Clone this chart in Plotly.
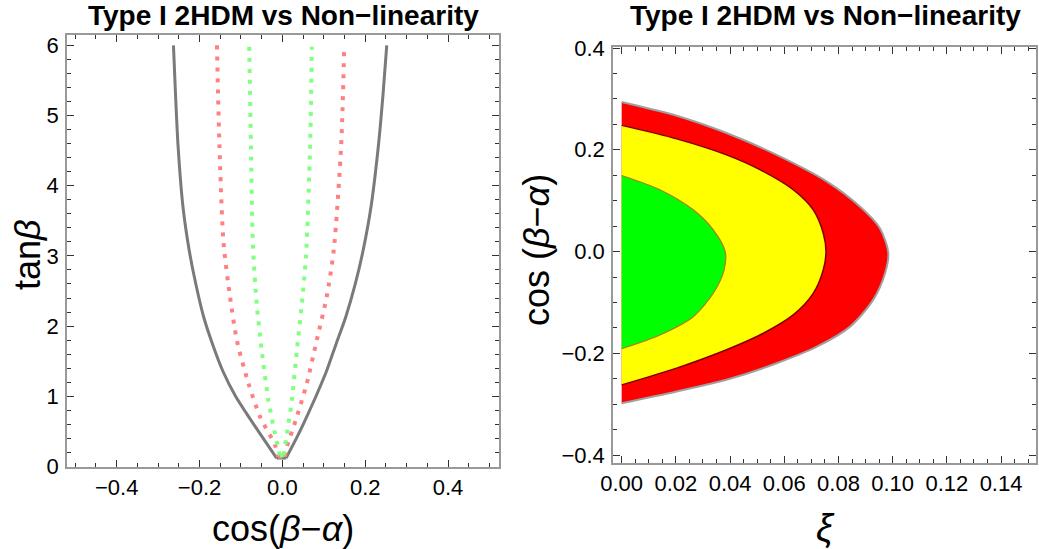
import plotly.graph_objects as go

# ---------------- Left panel data: tan(beta) vs cos(beta-alpha) ----------------
gray_cos = [-0.263, -0.258, -0.252, -0.240, -0.225, -0.209, -0.190, -0.169, -0.143, -0.113, -0.086, -0.052, -0.014,
            0.009, 0.038, 0.062, 0.081, 0.106, 0.130, 0.153, 0.176, 0.195, 0.214, 0.232, 0.243, 0.252]
gray_tan = [6.0, 5.3, 4.58, 3.7, 3.08, 2.6, 2.13, 1.75, 1.35, 1.0, 0.75, 0.45, 0.12,
            0.12, 0.45, 0.75, 1.0, 1.35, 1.75, 2.13, 2.6, 3.08, 3.7, 4.58, 5.3, 6.0]

red_cos = [-0.158, -0.152, -0.142, -0.126, -0.110, -0.082, -0.054, -0.018, -0.010,
           0.006, 0.011, 0.035, 0.059, 0.083, 0.107, 0.124, 0.142, 0.149]
red_tan = [6.0, 4.58, 3.18, 2.40, 1.80, 1.185, 0.71, 0.31, 0.14,
           0.14, 0.28, 0.71, 1.185, 1.80, 2.42, 3.08, 4.58, 5.91]

green_cos = [-0.080, -0.076, -0.071, -0.062, -0.050, -0.034, -0.018, -0.006,
             0.003, 0.011, 0.023, 0.035, 0.047, 0.057, 0.067, 0.071]
green_tan = [5.98, 4.58, 3.13, 2.32, 1.66, 0.95, 0.47, 0.16,
             0.16, 0.47, 0.95, 1.66, 2.32, 3.0, 4.58, 5.98]

# ---------------- Right panel data: cos(beta-alpha) vs xi regions ----------------
red_xi = [0.0, 0.0203, 0.0387, 0.0572, 0.0756, 0.0879, 0.0953, 0.0984, 0.0972, 0.0928, 0.0843, 0.072,
          0.0572, 0.0387, 0.0203, 0.0]
red_c = [0.294, 0.267, 0.233, 0.190, 0.138, 0.0886, 0.046, -0.003, -0.0425, -0.095, -0.1475, -0.187,
         -0.2195, -0.252, -0.275, -0.298]

yellow_xi = [0.0, 0.0203, 0.0387, 0.051, 0.0633, 0.0707, 0.0744, 0.0754, 0.0744, 0.0707, 0.0633, 0.0523,
             0.0387, 0.0203, 0.0]
yellow_c = [0.248, 0.2215, 0.190, 0.161, 0.1215, 0.082, 0.036, 0.0, -0.036, -0.082, -0.1245, -0.1605,
            -0.193, -0.229, -0.262]

green_xi = [0.0, 0.0141, 0.0264, 0.0338, 0.0382, 0.0378, 0.0338, 0.0264, 0.0141, 0.0]
green_c = [0.1495, 0.1215, 0.082, 0.0427, 0.0, -0.036, -0.082, -0.128, -0.164, -0.191]

title_text = "Type I 2HDM vs Non\u2212linearity"

W, H = 1039, 549
FONT = "Liberation Sans, Arial, sans-serif"

fig = go.Figure()


def add_branches(xs, ys, n_left, line):
    """Draw a V-shaped contour as left branch, bottom join and right branch."""
    pieces = [(xs[:n_left], ys[:n_left], "spline"),
              (xs[n_left - 1:n_left + 1], ys[n_left - 1:n_left + 1], "linear"),
              (xs[n_left:], ys[n_left:], "spline")]
    for px, py, shape in pieces:
        ln = dict(line)
        ln["shape"] = shape
        if shape == "spline":
            ln["smoothing"] = 0.7
        fig.add_trace(go.Scatter(x=px, y=py, mode="lines", line=ln, xaxis="x", yaxis="y",
                                 showlegend=False, hoverinfo="skip"))


add_branches(gray_cos, gray_tan, 13, dict(color="#7a7a7a", width=3))
add_branches(red_cos, red_tan, 9, dict(color="#ff8080", width=4, dash="4px,7px"))
add_branches(green_cos, green_tan, 8, dict(color="#80ff80", width=4, dash="4px,7px"))

# Right panel regions
fig.add_trace(go.Scatter(x=red_xi, y=red_c, mode="lines", fill="toself", fillcolor="#ff0000",
                         line=dict(color="#a0a0a0", width=2, shape="spline", smoothing=0.8),
                         xaxis="x2", yaxis="y2", showlegend=False, hoverinfo="skip"))
fig.add_trace(go.Scatter(x=yellow_xi, y=yellow_c, mode="lines", fill="toself", fillcolor="#ffff00",
                         line=dict(color="#800000", width=1.5, shape="spline", smoothing=0.8),
                         xaxis="x2", yaxis="y2", showlegend=False, hoverinfo="skip"))
fig.add_trace(go.Scatter(x=green_xi, y=green_c, mode="lines", fill="toself", fillcolor="#00ff00",
                         line=dict(color="#a08020", width=1.2, shape="spline", smoothing=0.8),
                         xaxis="x2", yaxis="y2", showlegend=False, hoverinfo="skip"))


def ax_common(dtick, minor_dtick, fmt):
    return dict(
        automargin=False,
        showline=True, linecolor="#999999", linewidth=1.5, mirror="ticks",
        ticks="inside", ticklen=7, tickwidth=1, tickcolor="#333333",
        dtick=dtick, tickformat=fmt, tick0=0,
        minor=dict(ticks="inside", ticklen=4, tickwidth=1, tickcolor="#333333", dtick=minor_dtick),
        showgrid=False, zeroline=False,
        tickfont=dict(family=FONT, size=22, color="#000000"),
        fixedrange=True,
    )


xa = ax_common(0.2, 0.05, ".1f"); xa.update(domain=[67 / W, 499 / W], range=[-0.520, 0.523], anchor="y", ticklabelstandoff=0)
ya = ax_common(1, 0.2, "d"); ya.update(domain=[1 - 467 / H, 1 - 35 / H], range=[-0.007, 6.147], anchor="x", ticklabelstandoff=2)
xa2 = ax_common(0.02, 0.005, ".2f"); xa2.update(domain=[613 / W, 1036 / W], range=[-0.0032, 0.1529], anchor="y2", ticklabelstandoff=0)
ya2 = ax_common(0.2, 0.05, ".1f"); ya2.update(domain=[1 - 463 / H, 1 - 47 / H], range=[-0.4155, 0.402], anchor="x2", ticklabelstandoff=2)

annotations = [
    dict(text="<b>" + title_text + "</b>", x=283 / W, y=1 - 15 / H, xref="paper", yref="paper",
         showarrow=False, xanchor="center", yanchor="middle", font=dict(family=FONT, size=28, color="#000")),
    dict(text="<b>" + title_text + "</b>", x=825 / W, y=1 - 15 / H, xref="paper", yref="paper",
         showarrow=False, xanchor="center", yanchor="middle", font=dict(family=FONT, size=28, color="#000")),
    dict(text="cos(<i>β</i>\u2212<i>α</i>)", x=283 / W, y=1 - 528 / H, xref="paper", yref="paper",
         showarrow=False, xanchor="center", yanchor="middle", font=dict(family=FONT, size=36, color="#000")),
    dict(text="tan<i>β</i>", x=27 / W, y=1 - 255 / H, xref="paper", yref="paper", textangle=-90,
         showarrow=False, xanchor="center", yanchor="middle", font=dict(family=FONT, size=36, color="#000")),
    dict(text="cos (<i>β</i>\u2212<i>α</i>)", x=536 / W, y=1 - 250 / H, xref="paper", yref="paper", textangle=-90,
         showarrow=False, xanchor="center", yanchor="middle", font=dict(family=FONT, size=36, color="#000")),
    dict(text="<i>ξ</i>", x=825 / W, y=1 - 528 / H, xref="paper", yref="paper",
         showarrow=False, xanchor="center", yanchor="middle", font=dict(family=FONT, size=38, color="#000")),
]

fig.update_layout(
    template="none",
    width=W, height=H, margin=dict(l=0, r=0, t=0, b=0, pad=0),
    paper_bgcolor="white", plot_bgcolor="white",
    xaxis=xa, yaxis=ya, xaxis2=xa2, yaxis2=ya2,
    annotations=annotations, showlegend=False,
)

fig.write_html("out.html", config=dict(displayModeBar=False))
